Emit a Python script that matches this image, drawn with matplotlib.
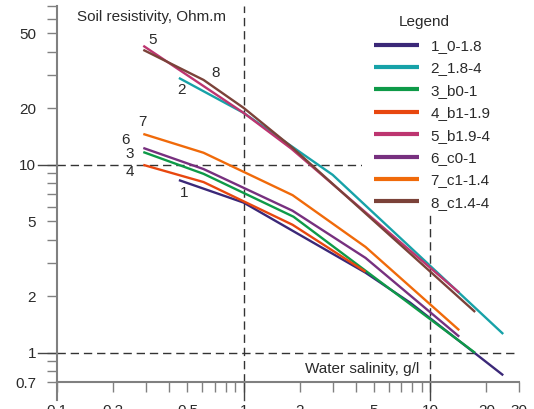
import matplotlib
matplotlib.use('Agg')
import matplotlib.pyplot as plt
from matplotlib.patches import Rectangle

plt.rcParams['font.family'] = ['Liberation Sans', 'DejaVu Sans']

# salinity (g/l) / resistivity (Ohm.m)
x1 = [0.45, 1.0, 4.5, 7.8, 24.6]
y1 = [8.3, 6.3, 2.67, 1.85, 0.76]
x2 = [0.45, 1.0, 3.0, 24.6]
y2 = [29.0, 18.9, 8.85, 1.26]
x3 = [0.29, 0.61, 1.85, 17.4]
y3 = [11.7, 8.96, 5.3, 1.0]
x4 = [0.29, 0.61, 1.83, 4.5]
y4 = [10.0, 8.1, 4.8, 2.7]
x5 = [0.29, 1.0, 1.8, 14.3]
y5 = [43.0, 18.9, 12.2, 2.09]
x6 = [0.29, 0.61, 1.83, 4.5, 14.3]
y6 = [12.3, 9.5, 5.7, 3.2, 1.22]
x7 = [0.29, 0.61, 1.83, 4.5, 14.3]
y7 = [14.6, 11.6, 6.9, 3.66, 1.32]
x8 = [0.29, 0.61, 1.0, 1.8, 17.4]
y8 = [40.9, 28.3, 20.1, 12.5, 1.65]

names = ['1_0-1.8', '2_1.8-4', '3_b0-1', '4_b1-1.9',
         '5_b1.9-4', '6_c0-1', '7_c1-1.4', '8_c1.4-4']
colors = ['#3b2878', '#17a2a8', '#0e9a48', '#e8470f',
          '#bd3570', '#77307f', '#f06a0a', '#7b4239']
xs = [x1, x2, x3, x4, x5, x6, x7, x8]
ys = [y1, y2, y3, y4, y5, y6, y7, y8]

# where the curve numbers sit
num_x = [0.477, 0.465, 0.245, 0.245, 0.325, 0.233, 0.287, 0.708]
num_y = [7.1, 25.0, 11.4, 9.18, 46.2, 13.6, 16.9, 30.9]

xticks = [0.1, 0.2, 0.5, 1, 2, 5, 10, 20, 30]
xlabels = ['0.1', '0.2', '0.5', '1', '2', '5', '10', '20', '30']
xminor = [0.3, 0.4, 0.6, 0.7, 0.8, 0.9, 3, 4, 6, 7, 8, 9]
yticks = [0.7, 1, 2, 5, 10, 20, 50]
ylabels = ['0.7', '1', '2', '5', '10', '20', '50']
yminor = [0.8, 0.9, 3, 4, 6, 7, 8, 9, 30, 40, 60, 70]

fig = plt.figure(figsize=(5.34, 4.09), dpi=100)
ax = fig.add_axes([57/534, 27/409, 462.3/534, 376/409])
ax.set_xscale('log')
ax.set_yscale('log')
ax.set_xlim(0.1, 30)
ax.set_ylim(0.7, 70)

gray = '#808080'
for s in ['top', 'right']:
    ax.spines[s].set_visible(False)
for s in ['left', 'bottom']:
    ax.spines[s].set_color(gray)
    ax.spines[s].set_linewidth(1.5)

ax.set_xticks(xticks)
ax.set_xticklabels(xlabels)
ax.set_xticks(xminor, minor=True)
ax.set_yticks(yticks)
ax.set_yticklabels(ylabels)
ax.set_yticks(yminor, minor=True)
ax.xaxis.set_minor_formatter(plt.NullFormatter())
ax.yaxis.set_minor_formatter(plt.NullFormatter())
ax.tick_params(which='both', direction='out', length=7, width=1, color=gray,
               labelsize=11, labelcolor='#2a2a2a')
ax.tick_params(axis='x', which='major', pad=8.5)
ax.tick_params(axis='y', which='major', pad=8)

# dashed reference lines
ds = (0, (6, 3.5))
for v in [1, 10]:
    ax.axhline(v, color='#333333', lw=1, ls=ds, zorder=2)
    ax.axvline(v, color='#333333', lw=1, ls=ds, zorder=2)
    ax.plot([-0.041, 0], [v, v], transform=ax.get_yaxis_transform(),
            color='#444444', lw=1, clip_on=False)
    ax.plot([v, v], [-0.048, 0], transform=ax.get_xaxis_transform(),
            color='#444444', lw=1, clip_on=False)
ax.plot([0.1, 0.1], [-0.048, 0], transform=ax.get_xaxis_transform(),
        color=gray, lw=1.5, clip_on=False)

for i in range(8):
    ax.plot(xs[i], ys[i], color=colors[i], lw=1.7, label=names[i],
            zorder=4, solid_capstyle='butt')
    ax.text(num_x[i], num_y[i], str(i + 1), fontsize=11, color='#2a2a2a',
            ha='center', va='center', zorder=5)

ax.text(0.043, 0.960, 'Soil resistivity, Ohm.m', transform=ax.transAxes,
        fontsize=11, color='#2a2a2a', ha='left', va='baseline')
ax.text(0.783, 0.024, 'Water salinity, g/l', transform=ax.transAxes,
        fontsize=11, color='#2a2a2a', ha='right', va='baseline')

# white block behind the legend
ax.add_patch(Rectangle((362/534, 1 - 211/409), 172/534, 211/409,
                       transform=fig.transFigure, facecolor='white',
                       edgecolor='none', zorder=3, clip_on=False))
fig.text(424/534, 1 - 22/409, 'Legend', fontsize=11, color='#2a2a2a',
         ha='center', va='center')

leg = ax.legend(loc='upper left',
                bbox_to_anchor=(374/534, 1 - 39/409), bbox_transform=fig.transFigure,
                frameon=False, fontsize=11,
                handlelength=2.95, handletextpad=0.75, labelspacing=0.55,
                borderaxespad=0, borderpad=0)
leg.set_zorder(5)
for t in leg.get_texts():
    t.set_color('#2a2a2a')
for l in leg.get_lines():
    l.set_linewidth(3)

fig.savefig('out.png', dpi=100)
